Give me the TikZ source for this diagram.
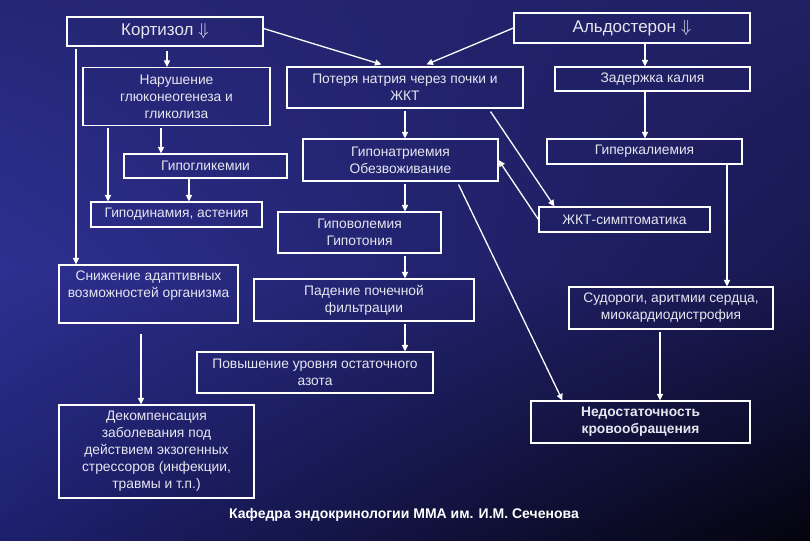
\documentclass[tikz,border=0pt]{standalone}
\usepackage{fontspec}
\setmainfont{Liberation Sans}
\usetikzlibrary{arrows.meta,shadings}
\definecolor{bgUL}{RGB}{38,38,118}
\definecolor{bgUR}{RGB}{32,32,100}
\definecolor{bgML}{RGB}{46,48,145}
\definecolor{bgMR}{RGB}{24,24,80}
\definecolor{bgLL}{RGB}{30,32,110}
\definecolor{bgLR}{RGB}{4,4,14}
\definecolor{txtcol}{RGB}{230,230,240}
\tikzset{
  box/.style={draw=white, line width=1.1pt, inner sep=0pt, text=txtcol,
    align=center, font=\fontsize{13.8}{17}\selectfont},
  ttl/.style={box, font=\fontsize{17}{19}\selectfont},
  arr/.style={draw=white, line width=1.3pt, -{Triangle[length=6.5pt,width=6pt]}},
  foot/.style={text=white, font=\fontsize{14}{16}\selectfont\bfseries}
}
\begin{document}
\begin{tikzpicture}[x=1pt,y=-1pt]
\useasboundingbox (0,0) rectangle (810,540);
\shade[upper left=bgUL, upper right=bgUR, lower left=bgML, lower right=bgMR] (0,0) rectangle (810,270);
\shade[upper left=bgML, upper right=bgMR, lower left=bgLL, lower right=bgLR] (0,270) rectangle (810,540);

% boxes
\node[ttl, minimum width=196pt, minimum height=29pt] (cort) at (165,31.5) {Кортизол $\Downarrow$};
\node[ttl, minimum width=236pt, minimum height=30pt] (aldo) at (632,28) {Альдостерон $\Downarrow$};
\node[box, minimum width=187pt, minimum height=58pt] (narush) at (176.5,96.5) {Нарушение\\глюконеогенеза и\\гликолиза};
\node[box, minimum width=236pt, minimum height=41pt] (poter) at (405,87.5) {Потеря натрия через почки и\\ЖКТ};
\node[box, minimum width=195pt, minimum height=24pt] (zader) at (652.5,79) {Задержка калия};
\node[box, minimum width=163pt, minimum height=24pt] (gipogl) at (205.5,166) {Гипогликемии};
\node[box, minimum width=195pt, minimum height=42pt] (gipona) at (400.5,160) {Гипонатриемия\\Обезвоживание};
\node[box, minimum width=195pt, minimum height=25pt] (giperk) at (644.5,151.5) {Гиперкалиемия};
\node[box, minimum width=171pt, minimum height=25pt] (gipodin) at (176.5,214.5) {Гиподинамия, астения};
\node[box, minimum width=163pt, minimum height=41pt] (gipovol) at (359.5,232.5) {Гиповолемия\\Гипотония};
\node[box, minimum width=171pt, minimum height=25pt] (zkt) at (624.5,219.5) {ЖКТ-симптоматика};
\node[box, minimum width=179pt, minimum height=58pt] (snizh) at (148.5,294) {};
\node[text=txtcol, align=center, font=\fontsize{13.8}{17}\selectfont] (snizhtxt) at (148.5,285.5) {Снижение адаптивных\\возможностей организма};
\node[box, minimum width=220pt, minimum height=42pt] (paden) at (364,300) {Падение почечной\\фильтрации};
\node[box, minimum width=204pt, minimum height=42pt] (sudor) at (671,308) {Судороги, аритмии сердца,\\миокардиодистрофия};
\node[box, minimum width=236pt, minimum height=41pt] (povysh) at (315,372.5) {Повышение уровня остаточного\\азота};
\node[box, minimum width=195pt, minimum height=93pt] (dekomp) at (156.5,451.5) {Декомпенсация\\заболевания под\\действием экзогенных\\стрессоров (инфекции,\\травмы и т.п.)};
\node[box, minimum width=219pt, minimum height=42pt, font=\fontsize{13.8}{17}\selectfont\bfseries] (nedost) at (640.5,422) {Недостаточность\\кровообращения};

\node[foot] (footer) at (404,515) {Кафедра эндокринологии ММА им. И.М. Сеченова};

% connectors
\draw[arr] ([yshift=-4pt]cort.south -| 167,0) -- (narush.north -| 167,0);
\draw[arr] ([yshift=-2pt]cort.south -| 76,0) -- (snizh.north -| 76,0);
\draw[arr] ([yshift=3pt]cort.east) -- ([xshift=95pt,yshift=2pt]poter.north west);
\draw[arr] (aldo.west) -- ([xshift=140pt,yshift=2pt]poter.north west);
\draw[arr] (aldo.south -| 645,0) -- (zader.north -| 645,0);
\draw[arr] ([yshift=-2pt]narush.south -| 161,0) -- (gipogl.north -| 161,0);
\draw[arr] ([yshift=-2pt]narush.south -| 108,0) -- (gipodin.north -| 108,0);
\draw[arr] (gipogl.south -| 189,0) -- (gipodin.north -| 189,0);
\draw[arr] ([yshift=-2pt]poter.south -| 405,0) -- (gipona.north -| 405,0);
\draw[arr] ([xshift=-33pt,yshift=-3pt]poter.south east) -- ([xshift=16pt]zkt.north west);
\draw[arr] (zkt.west) -- (gipona.east);
\draw[arr] ([xshift=-40pt,yshift=-3pt]gipona.south east) -- ([xshift=32pt]nedost.north west);
\draw[arr] ([yshift=-2pt]gipona.south -| 405,0) -- (gipovol.north -| 405,0);
\draw[arr] ([yshift=-2pt]gipovol.south -| 405,0) -- (paden.north -| 405,0);
\draw[arr] ([yshift=-2pt]paden.south -| 405,0) -- (povysh.north -| 405,0);
\draw[arr] (zader.south -| 645,0) -- (giperk.north -| 645,0);
\draw[arr] (giperk.south -| 727,0) -- (sudor.north -| 727,0);
\draw[arr] ([yshift=-2pt]sudor.south -| 660,0) -- (nedost.north -| 660,0);
\draw[arr] ([yshift=-10pt]snizh.south -| 141,0) -- (dekomp.north -| 141,0);
\end{tikzpicture}
\end{document}
